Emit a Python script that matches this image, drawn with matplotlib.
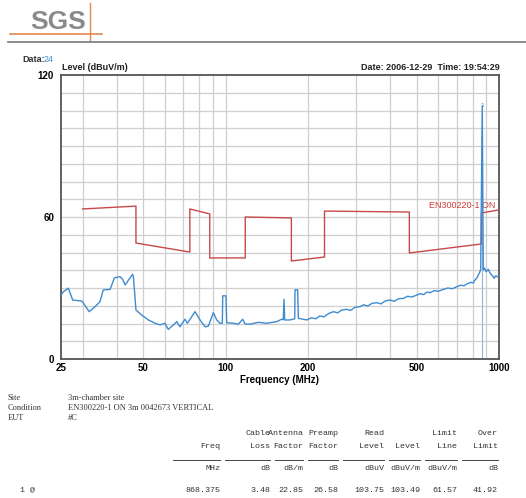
import matplotlib
matplotlib.use("Agg")
import matplotlib.pyplot as plt
from matplotlib.lines import Line2D

# measured trace (MHz, dBuV/m)
trace_freq = [25.0, 25.5, 26.6, 27.6, 29.8, 31.7, 33.3, 34.7, 35.7, 37.8, 39.2, 41.1, 42.0, 42.9,
              45.7, 46.0, 47.0, 49.3, 52.2, 55.2, 57.6, 60.0, 61.7, 64.4, 66.3, 68.1, 71.0, 72.5,
              77.3, 80.6, 84.1, 86.5, 90.2, 92.8, 95.4, 97.3, 97.6, 100.3, 100.9, 106.7, 111.3,
              115.5, 117.8, 122.8, 131.7, 141.3, 153.8, 160.4, 162.5, 163.6, 164.5, 172.1, 179.0,
              179.4, 183.5, 184.5, 198, 206, 214, 221, 229, 238, 248, 257, 266, 277, 286, 297,
              310, 320, 331, 343, 357, 370, 385, 400, 414, 430, 447, 463, 480, 500, 515, 530,
              545, 560, 580, 600, 626, 650, 675, 700, 725, 745, 762, 790, 805, 817, 830, 840,
              850, 857, 868.4, 876, 886, 896, 905, 914, 927, 940, 950, 959, 975, 990, 1000]
trace_level = [27.0, 28.4, 29.9, 24.9, 24.5, 20.0, 22.1, 24.2, 29.2, 29.4, 34.3, 34.8, 33.7, 31.3,
               35.8, 34.8, 20.7, 18.6, 16.5, 15.1, 14.4, 15.1, 12.5, 14.4, 15.8, 13.6, 16.8, 15.1,
               20.0, 16.5, 13.6, 13.9, 19.6, 16.5, 15.1, 15.1, 26.7, 26.7, 15.3, 15.1, 14.7,
               16.8, 14.8, 14.7, 15.5, 15.1, 15.8, 16.8, 16.6, 25.2, 16.5, 16.5, 17.0,
               29.2, 29.2, 17.2, 16.5, 17.4, 17.0, 18.2, 17.8, 19.2, 20.0, 19.5, 20.7, 21.0, 20.5, 21.8,
               22.1, 22.9, 22.4, 23.5, 23.8, 23.3, 24.6, 24.9, 24.4, 25.5, 25.6, 26.5, 26.2, 27.0, 27.6, 27.2,
               28.3, 28.0, 28.9, 28.6, 29.4, 30.0, 29.7, 30.5, 31.2, 30.9, 31.7, 32.4, 32.1, 33.4, 34.2, 35.5,
               36.6, 37.9, 107.0, 37.6, 38.4, 36.9, 37.3, 37.9, 36.3, 35.5, 35.0, 34.1, 35.2, 34.6, 34.8]

# EN300220-1 limit line
limit_freq = [30, 47, 47, 74, 74, 87.5, 87.5, 118, 118, 174, 174, 230, 230, 470, 470, 862, 862, 1000]
limit_level = [63.4, 64.6, 49.0, 45.2, 63.4, 61.3, 42.7, 42.7, 60.0, 59.6, 41.4, 43.1,
               62.5, 62.1, 44.8, 48.6, 61.7, 63.0]

marker_freq = 868.375
marker_level = 103.49

xticks = [25, 50, 100, 200, 500, 1000]
xgrid = [30, 40, 50, 60, 70, 80, 90, 100, 200, 300, 400, 500, 600, 700, 800, 900]
yticks = [0, 60, 120]
ygrid = [7.5 * i for i in range(1, 16)]

table_cols = [
    ("", "Freq", "MHz", "868.375"),
    ("Cable", "Loss", "dB", "3.48"),
    ("Antenna", "Factor", "dB/m", "22.85"),
    ("Preamp", "Factor", "dB", "26.58"),
    ("Read", "Level", "dBuV", "103.75"),
    ("", "Level", "dBuV/m", "103.49"),
    ("Limit", "Line", "dBuV/m", "61.57"),
    ("Over", "Limit", "dB", "41.92"),
]
col_right = [220, 270, 303, 338, 384, 420, 457, 498]

W, H = 526, 498
fig = plt.figure(figsize=(W / 100, H / 100), dpi=100)

def fx(px):
    return px / W

def fy(py):
    return 1 - py / H

ax = fig.add_axes([fx(61), fy(359), (499 - 61) / W, (359 - 75) / H])
ax.set_xscale("log")
ax.set_xlim(25, 1000)
ax.set_ylim(0, 120)

for g in xgrid:
    ax.axvline(g, color="#cfcfcf", lw=0.9, zorder=0)
for g in ygrid:
    ax.axhline(g, color="#cfcfcf", lw=0.9, zorder=0)

ax.set_xticks(xticks)
ax.set_xticklabels([str(t) for t in xticks])
ax.set_xticks([], minor=True)
ax.set_yticks(yticks)
ax.set_yticklabels([str(t) for t in yticks])
ax.tick_params(length=0, labelsize=7)
ax.tick_params(axis="x", pad=3)
ax.tick_params(axis="y", pad=5)
for lab in ax.get_xticklabels() + ax.get_yticklabels():
    lab.set_fontweight("bold")
    lab.set_fontfamily("Liberation Sans")
for s in ax.spines.values():
    s.set_color("#555555")
    s.set_linewidth(1.3)

ax.plot(limit_freq, limit_level, color="#c84848", lw=1.0, zorder=3)
ax.vlines(marker_freq, 0, marker_level, color="#8ab8e0", lw=0.8, zorder=2)
ax.plot(trace_freq, trace_level, color="#3f8bd0", lw=1.0, zorder=4)
ax.text(marker_freq, 106, "1", color="#3f8bd0", fontsize=4.5, ha="center", va="bottom")
ax.text(967, 65, "EN300220-1 ON", color="#d03a3a", fontsize=6.5, ha="right", va="center",
        family="Liberation Sans")

ax.set_xlabel("Frequency (MHz)", fontsize=7, fontweight="bold", family="Liberation Sans", labelpad=1)

# header texts
fig.text(fx(22), fy(60), "Data:", fontsize=6.5, fontweight="bold", color="#333333",
         family="Liberation Sans", va="center")
fig.text(fx(44), fy(60), "24", fontsize=6.5, color="#3f8bd0", family="Liberation Sans", va="center")
fig.text(fx(62), fy(68), "Level (dBuV/m)", fontsize=6.5, fontweight="bold", color="#222222",
         family="Liberation Sans", va="center")
fig.text(fx(500), fy(68), "Date: 2006-12-29  Time: 19:54:29", fontsize=6.5, fontweight="bold",
         color="#222222", family="Liberation Sans", va="center", ha="right")

# logo
fig.text(fx(30), fy(22), "SGS", fontsize=19, fontweight="bold", color="#8a8a8a",
         family="Liberation Sans", va="center")
fig.add_artist(Line2D([fx(10), fx(102)], [fy(34), fy(34)], color="#e08a50", lw=1.2))
fig.add_artist(Line2D([fx(90), fx(90)], [fy(3), fy(40)], color="#e08a50", lw=1.0))
fig.add_artist(Line2D([fx(8), fx(526)], [fy(42), fy(42)], color="#777777", lw=1.2))

# info block
info = [("Site", "3m-chamber site"), ("Condition", "EN300220-1 ON 3m 0042673 VERTICAL"), ("EUT", "#C")]
for i, (k, v) in enumerate(info):
    y = 398 + 10 * i
    fig.text(fx(8), fy(y), k, fontsize=6, family="Liberation Serif", color="#333333", va="center")
    fig.text(fx(68), fy(y), v, fontsize=6, family="Liberation Serif", color="#333333", va="center")

prev = 168
for (h1, h2, unit, val), r in zip(table_cols, col_right):
    for txt, y in [(h1, 433), (h2, 446), (unit, 468), (val, 490)]:
        fig.text(fx(r), fy(y), txt, fontsize=6, family="Liberation Mono", color="#333333",
                 ha="right", va="center")
    fig.add_artist(Line2D([fx(prev + 5), fx(r)], [fy(460), fy(460)], color="#444444", lw=0.7))
    prev = r
fig.text(fx(20), fy(490), "1 @", fontsize=6, family="Liberation Mono", color="#333333", va="center")

fig.savefig("out.png", dpi=100)
